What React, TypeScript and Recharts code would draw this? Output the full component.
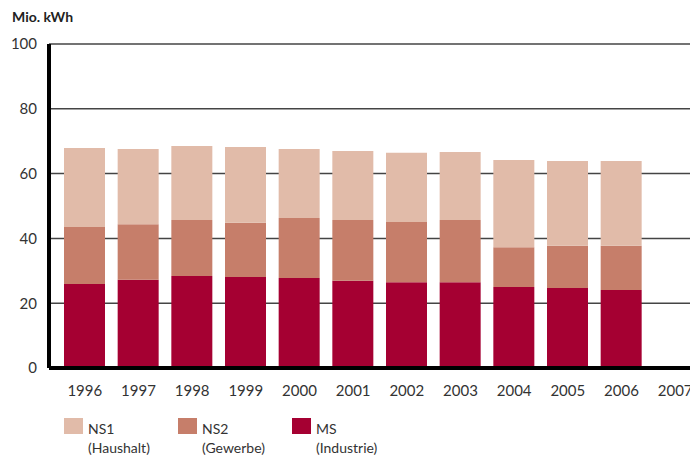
import React from "react";
import { BarChart, Bar, XAxis, YAxis, CartesianGrid } from "recharts";

const years = ["1996", "1997", "1998", "1999", "2000", "2001", "2002", "2003", "2004", "2005", "2006", "2007"];
const ms = [25.9, 27.2, 28.4, 28.1, 27.8, 26.9, 26.5, 26.5, 25.0, 24.7, 24.1, null];
const ns2 = [17.6, 17.2, 17.3, 16.7, 18.5, 18.8, 18.6, 19.2, 12.3, 13.0, 13.6, null];
const ns1 = [24.4, 23.2, 22.8, 23.4, 21.3, 21.3, 21.3, 21.0, 26.9, 26.2, 26.2, null];
const yTicks = [0, 20, 40, 60, 80, 100];

const series = [
  { key: "ns1", name: "NS1", sub: "(Haushalt)", color: "#E1BBA9" },
  { key: "ns2", name: "NS2", sub: "(Gewerbe)", color: "#C67E6A" },
  { key: "ms", name: "MS", sub: "(Industrie)", color: "#A50032" },
];

const data = years.map((y, i) => ({ year: y, ms: ms[i], ns2: ns2[i], ns1: ns1[i] }));

const FONT = "Lato, 'Open Sans', sans-serif";

export default function App() {
  return (
    <div style={{ position: "absolute", left: 0, top: 0, width: 690, height: 457, overflow: "hidden", background: "#fff", fontFamily: FONT }}>
      <div style={{ position: "absolute", left: 12, top: 8, fontSize: 14, fontWeight: 700, color: "#222" }}>Mio. kWh</div>
      <div style={{ position: "absolute", left: 0, top: 0 }}>
        <BarChart width={712} height={410} data={data} margin={{ top: 44, right: 10, bottom: 12, left: 0 }} barSize={41}>
          <CartesianGrid horizontal vertical={false} stroke="#444" strokeWidth={1.5} />
          <XAxis
            dataKey="year"
            height={30}
            axisLine={{ stroke: "#000", strokeWidth: 4 }}
            tickLine={false}
            tickSize={0}
            tickMargin={17}
            padding={{ left: 9, right: 0 }}
            tick={{ fill: "#333", fontSize: 15, fontFamily: FONT }}
            interval={0}
          />
          <YAxis
            width={49}
            domain={[0, 100]}
            ticks={yTicks}
            axisLine={{ stroke: "#000", strokeWidth: 4 }}
            tickLine={false}
            tickSize={0}
            tickMargin={12}
            tick={{ fill: "#333", fontSize: 15, fontFamily: FONT }}
          />
          <Bar dataKey="ms" stackId="a" fill="#A50032" isAnimationActive={false} />
          <Bar dataKey="ns2" stackId="a" fill="#C67E6A" isAnimationActive={false} />
          <Bar dataKey="ns1" stackId="a" fill="#E1BBA9" isAnimationActive={false} />
        </BarChart>
      </div>
      {series.map((s, i) => (
        <div key={s.key} style={{ position: "absolute", left: 64 + i * 114, top: 418 }}>
          <div style={{ position: "absolute", left: 0, top: 0, width: 19, height: 16, background: s.color }} />
          <div style={{ position: "absolute", left: 24, top: 2, fontSize: 14, color: "#333", whiteSpace: "nowrap" }}>{s.name}</div>
          <div style={{ position: "absolute", left: 24, top: 21, fontSize: 14, color: "#333", whiteSpace: "nowrap" }}>{s.sub}</div>
        </div>
      ))}
    </div>
  );
}
